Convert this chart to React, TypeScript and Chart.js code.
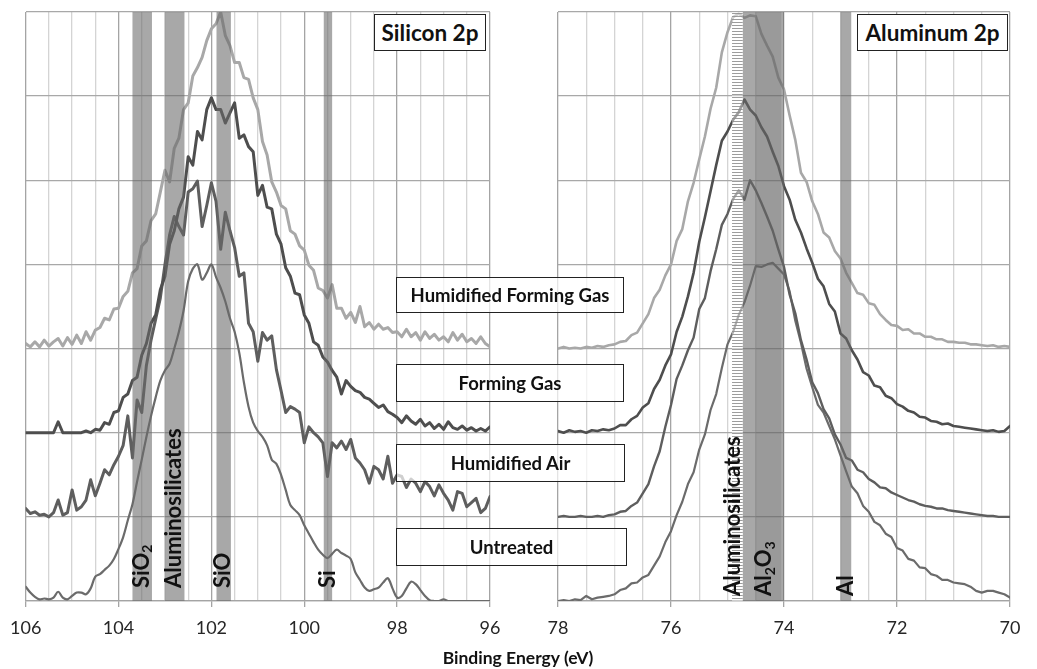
import React, { useEffect, useRef } from 'react';
import { Chart, registerables } from 'chart.js';

Chart.register(...registerables);

// ---------- DATA ----------
const seriesNames = ['Humidified Forming Gas', 'Forming Gas', 'Humidified Air', 'Untreated'];

const siEnergy = [
  106.0, 105.9, 105.8, 105.7, 105.6, 105.5, 105.4, 105.3, 105.2, 105.1,
  105.0, 104.9, 104.8, 104.7, 104.6, 104.5, 104.4, 104.3, 104.2, 104.1,
  104.0, 103.9, 103.8, 103.7, 103.6, 103.5, 103.4, 103.3, 103.2, 103.1,
  103.0, 102.9, 102.8, 102.7, 102.6, 102.5, 102.4, 102.3, 102.2, 102.1,
  102.0, 101.9, 101.8, 101.7, 101.6, 101.5, 101.4, 101.3, 101.2, 101.1,
  101.0, 100.9, 100.8, 100.7, 100.6, 100.5, 100.4, 100.3, 100.2, 100.1,
  100.0, 99.9, 99.8, 99.7, 99.6, 99.5, 99.4, 99.3, 99.2, 99.1,
  99.0, 98.9, 98.8, 98.7, 98.6, 98.5, 98.4, 98.3, 98.2, 98.1,
  98.0, 97.9, 97.8, 97.7, 97.6, 97.5, 97.4, 97.3, 97.2, 97.1,
  97.0, 96.9, 96.8, 96.7, 96.6, 96.5, 96.4, 96.3, 96.2, 96.1,
  96.0,
];
const siHumidifiedFormingGas = [
  3.06, 3.02, 3.08, 3.02, 3.1, 3.03, 3.08, 3.12, 3.03, 3.13,
  3.05, 3.16, 3.06, 3.2, 3.1, 3.22, 3.25, 3.36, 3.34, 3.47,
  3.48, 3.62, 3.68, 3.9, 3.95, 4.22, 4.28, 4.52, 4.6, 4.86,
  5.12, 4.98, 5.38, 5.5, 5.84, 5.92, 6.24, 6.34, 6.46, 6.66,
  6.8, 6.86, 7.0, 6.72, 6.6, 6.4, 6.4, 6.22, 6.2, 5.98,
  5.84, 5.46, 5.3, 4.98, 4.86, 4.7, 4.66, 4.4, 4.36, 4.22,
  4.17, 3.99, 3.93, 3.72, 3.69, 3.6, 3.76, 3.48, 3.48, 3.36,
  3.43, 3.31, 3.5, 3.26, 3.31, 3.23, 3.29, 3.23, 3.25, 3.19,
  3.2, 3.14, 3.23, 3.14, 3.19, 3.1, 3.2, 3.12, 3.17, 3.1,
  3.14, 3.08, 3.19, 3.1, 3.17, 3.08, 3.12, 3.06, 3.14, 3.06,
  3.02,
];
const siFormingGas = [
  2.0, 2.0, 2.0, 2.0, 2.0, 2.0, 2.0, 2.13, 2.0, 2.0,
  2.0, 2.0, 2.0, 2.02, 2.0, 2.04, 2.03, 2.12, 2.1, 2.24,
  2.26, 2.42, 2.46, 2.62, 2.66, 2.92, 3.06, 3.3, 3.4, 3.7,
  3.86, 4.24, 4.4, 4.66, 4.8, 5.28, 5.18, 5.58, 5.48, 5.84,
  5.98, 5.84, 5.84, 5.68, 5.8, 5.92, 5.5, 5.54, 5.4, 5.34,
  4.82, 4.94, 4.68, 4.66, 4.36, 4.24, 3.96, 3.86, 3.66, 3.64,
  3.4, 3.3, 3.08, 3.04, 2.9, 2.84, 2.74, 2.66, 2.46, 2.62,
  2.55, 2.5, 2.48, 2.42, 2.4, 2.35, 2.3, 2.33, 2.25, 2.22,
  2.18, 2.12, 2.2, 2.14, 2.1, 2.16, 2.08, 2.12, 2.05, 2.1,
  2.04, 2.13, 2.06, 2.04, 2.08, 2.03, 2.06, 2.02, 2.05, 2.02,
  2.07,
];
const siHumidifiedAir = [
  1.1, 1.04, 1.06, 1.02, 1.03, 1.0, 1.05, 1.2, 1.02, 1.05,
  1.32, 1.08, 1.12, 1.2, 1.44, 1.25, 1.4, 1.56, 1.5, 1.62,
  1.72, 1.85, 2.2, 1.7, 2.39, 2.24, 2.8, 3.1, 3.35, 3.6,
  4.0, 4.35, 4.57, 4.45, 4.35, 4.86, 4.9, 4.99, 4.45, 4.7,
  4.97, 4.75, 4.18, 4.62, 4.4, 4.2, 3.86, 3.9, 3.3, 3.2,
  2.85, 3.19, 3.1, 3.15, 2.75, 2.5, 2.24, 2.31, 2.28, 2.24,
  1.88, 2.07, 2.0, 1.95, 1.88, 1.48, 1.88, 1.82, 1.9, 1.8,
  1.92, 1.7, 1.64, 1.56, 1.4, 1.6, 1.56, 1.45, 1.72, 1.4,
  1.5, 1.48, 1.35, 1.45, 1.4, 1.3, 1.42, 1.36, 1.25, 1.38,
  1.28, 1.2, 1.08, 1.3, 1.28, 1.12, 1.17, 1.22, 1.05, 1.1,
  1.24,
];
const siUntreated = [
  0.17, 0.1, 0.05, 0.02, 0.03, 0.02, 0.04, 0.11, 0.04, 0.02,
  0.06, 0.1, 0.1, 0.08, 0.15, 0.29, 0.32, 0.37, 0.42, 0.5,
  0.62, 0.76, 0.96, 1.15, 1.42, 1.68, 1.95, 2.2, 2.42, 2.62,
  2.74, 2.82, 3.0, 3.2, 3.45, 3.8, 3.95, 4.0, 3.82, 3.9,
  4.0, 3.85, 3.72, 3.56, 3.36, 3.2, 2.95, 2.6, 2.31, 2.12,
  2.02, 1.95, 1.85, 1.68, 1.63, 1.5, 1.32, 1.14, 1.08, 1.02,
  0.9, 0.8, 0.7, 0.61, 0.55, 0.51, 0.56, 0.61, 0.57, 0.54,
  0.5, 0.34, 0.25, 0.16, 0.12, 0.14, 0.16, 0.22, 0.27, 0.15,
  0.04, 0.06, 0.15, 0.23, 0.2, 0.13, 0.06, 0.01, 0.0, 0.0,
  0.02, 0.0, 0.0, 0.0, 0.0, 0.0, 0.0, 0.0, 0.0, 0.0,
  0.0,
];

const alEnergy = [
  78.0, 77.9, 77.8, 77.7, 77.6, 77.5, 77.4, 77.3, 77.2, 77.1,
  77.0, 76.9, 76.8, 76.7, 76.6, 76.5, 76.4, 76.3, 76.2, 76.1,
  76.0, 75.9, 75.8, 75.7, 75.6, 75.5, 75.4, 75.3, 75.2, 75.1,
  75.0, 74.9, 74.8, 74.7, 74.6, 74.5, 74.4, 74.3, 74.2, 74.1,
  74.0, 73.9, 73.8, 73.7, 73.6, 73.5, 73.4, 73.3, 73.2, 73.1,
  73.0, 72.9, 72.8, 72.7, 72.6, 72.5, 72.4, 72.3, 72.2, 72.1,
  72.0, 71.9, 71.8, 71.7, 71.6, 71.5, 71.4, 71.3, 71.2, 71.1,
  71.0, 70.9, 70.8, 70.7, 70.6, 70.5, 70.4, 70.3, 70.2, 70.1,
  70.0,
];
const alHumidifiedFormingGas = [
  3.0, 3.02, 3.0, 3.01, 3.0, 3.02, 3.01, 3.03, 3.02, 3.04,
  3.05, 3.08, 3.09, 3.16, 3.19, 3.3, 3.41, 3.6, 3.7, 3.87,
  4.0, 4.28, 4.42, 4.75, 4.97, 5.25, 5.52, 5.85, 6.1, 6.52,
  6.76, 6.94, 6.98, 6.93, 6.96, 6.95, 6.74, 6.6, 6.47, 6.22,
  6.08, 5.77, 5.48, 5.09, 4.98, 4.75, 4.6, 4.38, 4.32, 4.16,
  4.07, 3.9, 3.78, 3.66, 3.64, 3.54, 3.52, 3.41, 3.34, 3.28,
  3.27, 3.22, 3.23, 3.18, 3.18, 3.14, 3.14, 3.11, 3.11, 3.08,
  3.08, 3.07, 3.07, 3.05, 3.05, 3.04, 3.03, 3.04, 3.02, 3.03,
  3.02,
];
const alFormingGas = [
  2.02, 2.0, 2.03, 2.01, 2.02, 2.0, 2.03, 2.02, 2.04, 2.03,
  2.05, 2.09, 2.09, 2.16, 2.2, 2.3, 2.35, 2.52, 2.63, 2.8,
  2.93, 3.2, 3.38, 3.62, 3.9, 4.27, 4.56, 4.87, 5.18, 5.47,
  5.58, 5.72, 5.81, 5.96, 5.84, 5.77, 5.63, 5.52, 5.34, 5.17,
  4.93, 4.77, 4.53, 4.38, 4.19, 4.02, 3.83, 3.74, 3.53, 3.44,
  3.18, 3.12, 2.98, 2.87, 2.72, 2.68, 2.56, 2.54, 2.44, 2.41,
  2.34, 2.31, 2.26, 2.24, 2.19, 2.18, 2.14, 2.13, 2.1, 2.11,
  2.08, 2.07, 2.06, 2.05, 2.04, 2.03, 2.02, 2.03, 2.01, 2.02,
  2.08,
];
const alHumidifiedAir = [
  1.0, 1.01, 1.0, 1.0, 1.01, 1.0, 1.0, 1.01, 1.0, 1.02,
  1.03, 1.06, 1.07, 1.13, 1.17, 1.28, 1.39, 1.6, 1.78, 2.07,
  2.33, 2.64, 2.8, 2.98, 3.13, 3.47, 3.6, 3.92, 4.18, 4.47,
  4.6, 4.78, 4.88, 4.77, 5.0, 4.88, 4.73, 4.57, 4.4, 4.18,
  3.97, 3.64, 3.42, 3.1, 2.87, 2.6, 2.47, 2.28, 2.17, 1.98,
  1.86, 1.7, 1.67, 1.56, 1.53, 1.45, 1.41, 1.35, 1.34, 1.29,
  1.26, 1.23, 1.2, 1.18, 1.15, 1.13, 1.12, 1.1, 1.1, 1.08,
  1.07, 1.06, 1.05, 1.04, 1.03, 1.02, 1.01, 1.01, 1.0, 1.0,
  1.0,
];
const alUntreated = [
  0.0, 0.01, 0.0, 0.02, 0.01, 0.06, 0.02, 0.04, 0.05, 0.06,
  0.08, 0.13, 0.15, 0.21, 0.22, 0.28, 0.31, 0.42, 0.53, 0.7,
  0.83, 1.02, 1.18, 1.39, 1.53, 1.8, 1.98, 2.27, 2.46, 2.77,
  3.05, 3.2, 3.4, 3.55, 3.75, 3.98, 3.97, 4.0, 4.02, 3.95,
  3.88, 3.68, 3.33, 3.07, 2.76, 2.54, 2.33, 2.24, 2.08, 1.92,
  1.73, 1.54, 1.36, 1.28, 1.13, 1.06, 0.94, 0.9, 0.8, 0.76,
  0.63, 0.6, 0.5, 0.48, 0.4, 0.39, 0.32, 0.3, 0.25, 0.25,
  0.22, 0.21, 0.2, 0.17, 0.12, 0.1, 0.12, 0.12, 0.1, 0.08,
  0.04,
];

// reference bands (eV ranges)
const siBandRanges = [[103.7, 103.28], [103.0, 102.58], [101.89, 101.58], [99.58, 99.4]];
const alBandRanges = [[74.73, 74.0], [74.5, 74.05], [73.0, 72.81]];
const alHatchRange = [74.92, 74.73];

const siBandLabels = [
  { at: 103.5, text: 'SiO', sub: '2' },
  { at: 102.8, text: 'Aluminosilicates', sub: '' },
  { at: 101.75, text: 'SiO', sub: '' },
  { at: 99.5, text: 'Si', sub: '' },
];
const alBandLabels = [
  { at: 74.9, text: 'Aluminosilicates', sub: '' },
  { at: 74.35, text: 'Al', sub: '2', after: 'O', sub2: '3' },
  { at: 72.9, text: 'Al', sub: '' },
];

// ---------- PLUGIN ----------
const FONT = 'Lato, "Open Sans", sans-serif';

const bandPlugin = {
  id: 'bandPlugin',
  afterDatasetsDraw(chart: any, _args: any, opts: any) {
    const { ctx, chartArea, scales } = chart;
    const xs = scales.x;
    ctx.save();
    ctx.beginPath();
    ctx.rect(chartArea.left, chartArea.top, chartArea.width, chartArea.height);
    ctx.clip();
    (opts.bands || []).forEach((b: number[], i: number) => {
      const x1 = xs.getPixelForValue(b[0]);
      const x2 = xs.getPixelForValue(b[1]);
      ctx.fillStyle = opts.inner && i === 1 ? 'rgba(90,90,90,0.18)' : 'rgba(105,105,105,0.58)';
      ctx.fillRect(Math.min(x1, x2), chartArea.top, Math.abs(x2 - x1), chartArea.height);
    });
    if (opts.hatch) {
      const x1 = xs.getPixelForValue(opts.hatch[0]);
      const x2 = xs.getPixelForValue(opts.hatch[1]);
      const l = Math.min(x1, x2);
      const w = Math.abs(x2 - x1);
      ctx.fillStyle = 'rgba(255,255,255,0.45)';
      ctx.fillRect(l, chartArea.top, w, chartArea.height);
      ctx.strokeStyle = 'rgba(140,140,140,0.85)';
      ctx.lineWidth = 1;
      for (let y = chartArea.top + 1.5; y < chartArea.bottom; y += 3) {
        ctx.beginPath();
        ctx.moveTo(l, y);
        ctx.lineTo(l + w, y);
        ctx.stroke();
      }
    }
    ctx.restore();

    (opts.labels || []).forEach((lb: any) => {
      const px = xs.getPixelForValue(lb.at);
      ctx.save();
      ctx.translate(px, chartArea.bottom - (opts.labelBottom || 12));
      ctx.rotate(-Math.PI / 2);
      ctx.fillStyle = '#111';
      ctx.textBaseline = 'middle';
      ctx.textAlign = 'left';
      const big = 'bold 22px ' + FONT;
      const small = 'bold 14px ' + FONT;
      let cx = 0;
      const parts: any[] = [[lb.text, false], [lb.sub, true], [lb.after || '', false], [lb.sub2 || '', true]];
      parts.forEach(([t, isSub]) => {
        if (!t) return;
        ctx.font = isSub ? small : big;
        ctx.fillText(t, cx, isSub ? 6 : 0);
        cx += ctx.measureText(t).width;
      });
      ctx.restore();
    });
  },
};

const isMajor = (v: number) => Math.abs(v % 2) < 1e-6;

function buildChart(
  canvas: HTMLCanvasElement,
  energy: number[],
  series: number[][],
  min: number,
  max: number,
  pad: { left: number; right: number },
  pluginOpts: any,
  thin: boolean
) {
  const colors = ['#a8a8a8', '#4e4e4e', '#5e5e5e', '#6b6b6b'];
  const widths = thin ? [2.6, 2.6, 2.4, 2.2] : [3, 3, 3, 2.2];
  return new Chart(canvas, {
    type: 'line',
    data: {
      datasets: series.map((vals, k) => ({
        label: seriesNames[k],
        data: energy.map((e, i) => ({ x: e, y: vals[i] })),
        borderColor: colors[k],
        borderWidth: widths[k],
        pointRadius: 0,
        tension: !thin && k === 3 ? 0.35 : 0,
        borderJoinStyle: 'round',
        borderCapStyle: 'round',
        fill: false,
      })),
    },
    options: {
      responsive: false,
      animation: false,
      events: [],
      layout: { padding: { left: pad.left, right: pad.right, top: 12, bottom: 0 } },
      plugins: {
        legend: { display: false },
        tooltip: { enabled: false },
        bandPlugin: pluginOpts,
      } as any,
      scales: {
        x: {
          type: 'linear',
          position: 'bottom',
          min,
          max,
          reverse: true,
          afterFit: (s: any) => {
            s.height = 68;
          },
          ticks: {
            stepSize: 0.5,
            autoSkip: false,
            maxRotation: 0,
            padding: 10,
            color: '#262626',
            font: { family: FONT, size: 18 },
            callback: (v: any) => (isMajor(Number(v)) ? String(v) : ''),
          },
          grid: {
            color: (c: any) => (c.tick && isMajor(c.tick.value) ? '#a4a4a4' : '#d4d4d4'),
            tickColor: (c: any) => (c.tick && isMajor(c.tick.value) ? '#a4a4a4' : 'rgba(0,0,0,0)'),
            tickLength: 6,
            lineWidth: 1.3,
          },
          border: { display: true, color: '#a4a4a4', width: 1.3 },
        },
        y: {
          type: 'linear',
          min: 0,
          max: 7,
          afterFit: (s: any) => {
            s.width = 0;
          },
          ticks: { display: false, stepSize: 1 },
          grid: { color: '#a8a8a8', drawTicks: false, lineWidth: 1.3 },
          border: { display: false },
        },
      },
    } as any,
    plugins: [bandPlugin],
  });
}

export default function App() {
  const leftRef = useRef<HTMLCanvasElement>(null);
  const rightRef = useRef<HTMLCanvasElement>(null);

  useEffect(() => {
    const c1 = buildChart(
      leftRef.current!,
      siEnergy,
      [siHumidifiedFormingGas, siFormingGas, siHumidifiedAir, siUntreated],
      96,
      106,
      { left: 23, right: 35 },
      { bands: siBandRanges, labels: siBandLabels, labelBottom: 13 },
      false
    );
    const c2 = buildChart(
      rightRef.current!,
      alEnergy,
      [alHumidifiedFormingGas, alFormingGas, alHumidifiedAir, alUntreated],
      70,
      78,
      { left: 33, right: 27 },
      { bands: alBandRanges, inner: true, hatch: alHatchRange, labels: alBandLabels, labelBottom: 5 },
      true
    );
    return () => {
      c1.destroy();
      c2.destroy();
    };
  }, []);

  const legendTops = [277, 364, 444, 528];
  const legendHeights = [36, 38, 38, 38];
  const legendWidths = [228, 228, 229, 231];

  const boxStyle: React.CSSProperties = {
    position: 'absolute',
    boxSizing: 'border-box',
    border: '1.5px solid #222',
    display: 'flex',
    alignItems: 'center',
    justifyContent: 'center',
    fontFamily: FONT,
    fontWeight: 700,
    color: '#111',
    whiteSpace: 'nowrap',
  };

  return (
    <div
      style={{
        position: 'fixed',
        left: 0,
        top: 0,
        width: 1037,
        height: 669,
        background: '#fff',
        overflow: 'hidden',
        fontFamily: FONT,
      }}
    >
      <canvas ref={leftRef} width={525} height={669} style={{ position: 'absolute', left: 0, top: 0 }} />
      <canvas ref={rightRef} width={512} height={669} style={{ position: 'absolute', left: 525, top: 0 }} />

      {seriesNames.map((name, i) => (
        <div
          key={name}
          style={{
            ...boxStyle,
            left: 396,
            top: legendTops[i],
            width: legendWidths[i],
            height: legendHeights[i],
            background: 'rgba(255,255,255,0.7)',
            fontSize: 18.5,
          }}
        >
          {name}
        </div>
      ))}

      <div style={{ ...boxStyle, left: 374, top: 14, width: 112, height: 37, background: '#fff', fontSize: 22.5 }}>
        Silicon 2p
      </div>
      <div style={{ ...boxStyle, left: 857, top: 14, width: 151, height: 37, background: '#fff', fontSize: 22.5 }}>
        Aluminum 2p
      </div>

      <div
        style={{
          position: 'absolute',
          left: 368,
          width: 300,
          top: 647,
          textAlign: 'center',
          fontFamily: FONT,
          fontWeight: 700,
          fontSize: 17.5,
          color: '#111',
        }}
      >
        Binding Energy (eV)
      </div>
    </div>
  );
}
